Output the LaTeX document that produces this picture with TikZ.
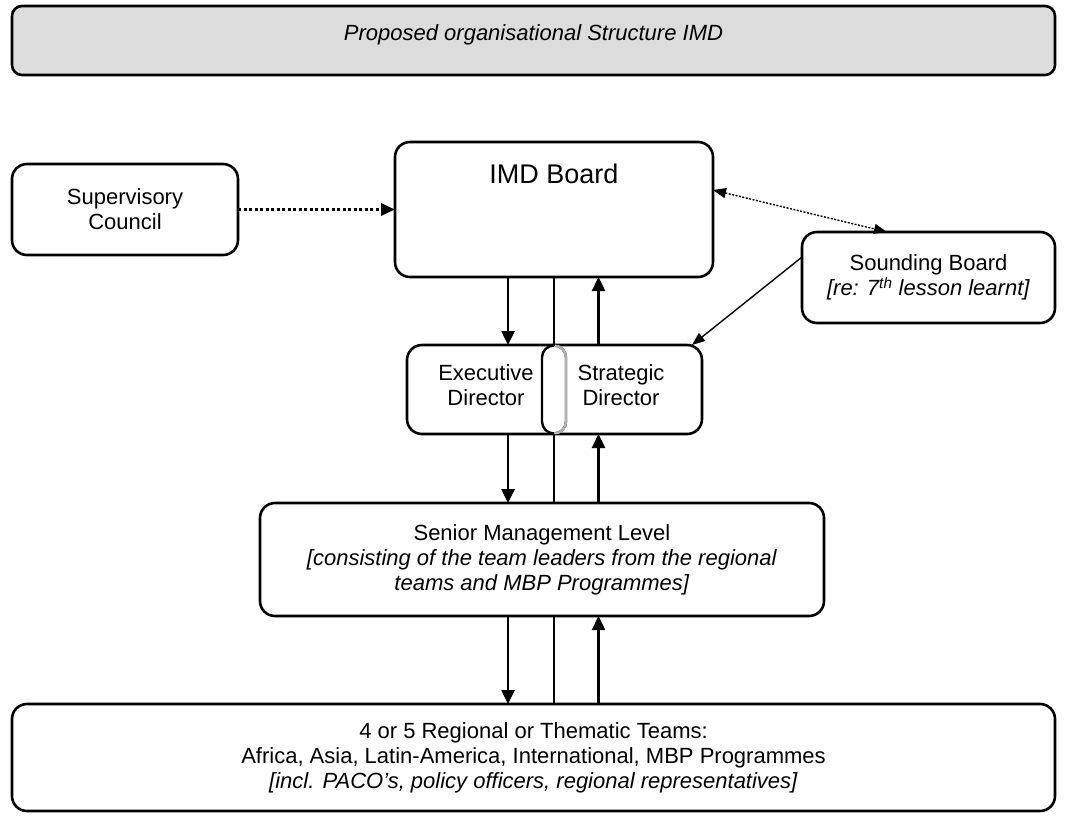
\documentclass[tikz,border=0pt]{standalone}
\usepackage{fontspec}
\setmainfont{Liberation Sans}
\usetikzlibrary{arrows.meta,positioning,calc}
\definecolor{titlegray}{RGB}{220,220,220}

\tikzset{
  box/.style={draw, line width=2.6pt, rounded corners=15pt, inner sep=0pt, outer sep=0pt, align=center, font=\fontsize{22}{25}\selectfont},
  txt/.style={align=center, font=\fontsize{22}{25}\selectfont},
  arr/.style={line width=2.5pt, -{Triangle[length=14pt,width=13pt]}},
  thinarr/.style={line width=1.4pt, -{Triangle[length=13pt,width=10pt]}},
}

\begin{document}
\begin{tikzpicture}[x=1pt,y=-1pt]
      \useasboundingbox (0,0) rectangle (1068,815);

      \node[box, fill=titlegray, rounded corners=10pt, minimum width=1043pt, minimum height=69pt] (title) at (533.5,40.5) {};
      \node[font=\fontsize{22}{25}\selectfont\itshape] (titletext) at (533.5,35) {Proposed organisational Structure IMD};

      \node[box, minimum width=318pt, minimum height=135pt] (board) at (554,209.5) {};
      \node[font=\fontsize{27}{30}\selectfont] (boardtext) at (554,174) {IMD Board};
      \node[box, minimum width=226pt, minimum height=91pt] (sup) at (125,209.5) {Supervisory\\Council};
      \node[box, minimum width=253pt, minimum height=91pt] (sound) at (928.5,277.5) {Sounding Board\\\textit{[re: 7\textsuperscript{th} lesson learnt]}};

      \node[box, minimum width=295pt, minimum height=89pt] (dir) at (554.5,389.5) {};
      \node[txt] (exec) at (486,385.5) {Executive\\Director};
      \node[txt] (strat) at (621,385.5) {Strategic\\Director};
      \node[draw, line width=2.4pt, rounded corners=12pt, minimum width=24pt, minimum height=88pt, inner sep=0pt, outer sep=0pt] (link) at (554,389.5) {};
      \begin{scope}
        \clip ([yshift=4pt]link.north) rectangle ([xshift=4pt,yshift=-4pt]link.south east);
        \node[draw=gray!60, line width=2.4pt, rounded corners=12pt, minimum width=24pt, minimum height=88pt, inner sep=0pt, outer sep=0pt] (linkright) at (link) {};
      \end{scope}

      \node[box, minimum width=564pt, minimum height=113pt] (senior) at (542,559.5) {Senior Management Level\\\textit{[consisting of the team leaders from the regional}\\\textit{teams and MBP Programmes]}};
      \node[box, minimum width=1043pt, minimum height=107pt] (teams) at (533.5,757.5) {4 or 5 Regional or Thematic Teams:\\Africa, Asia, Latin-America, International, MBP Programmes\\\textit{[incl. PACO’s, policy officers, regional representatives]}};

      \coordinate (dn) at (508,0);
      \coordinate (mid) at (554,0);
      \coordinate (up) at (598.5,0);

      \draw[line width=3.2pt, dash pattern=on 3pt off 2.5pt, -{Triangle[length=14pt,width=12pt]}] (sup.east) -- (sup.east -| board.west);
      \draw[line width=1.4pt, dash pattern=on 2pt off 1.5pt, {Triangle[length=13pt,width=10pt]}-{Triangle[length=13pt,width=10pt]}] ([yshift=19.5pt]board.east) -- ([xshift=-41.5pt]sound.north);
      \draw[thinarr] ([yshift=20.5pt]sound.west) -- ([xshift=-10pt]dir.north east);

      \draw[arr] (board.south -| dn) -- (dir.north -| dn);
      \draw[line width=2.5pt] (board.south -| mid) -- (link.north);
      \draw[arr] (dir.north -| up) -- (board.south -| up);
      \draw[arr] (dir.south -| dn) -- (senior.north -| dn);
      \draw[line width=2.5pt] (link.south) -- (senior.north -| mid);
      \draw[arr] (senior.north -| up) -- (dir.south -| up);
      \draw[arr] (senior.south -| dn) -- (teams.north -| dn);
      \draw[line width=2.5pt] (senior.south -| mid) -- (teams.north -| mid);
      \draw[arr] (teams.north -| up) -- (senior.south -| up);
\end{tikzpicture}
\end{document}
